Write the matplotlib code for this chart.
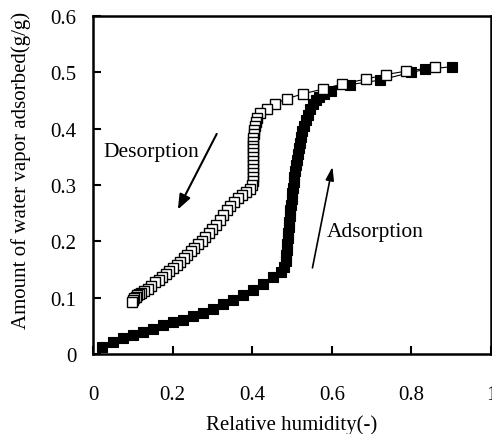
import matplotlib
matplotlib.use("Agg")
import matplotlib.pyplot as plt

# Adsorption (filled squares)
ads_x = [0.022, 0.050, 0.076, 0.100, 0.126, 0.151, 0.176, 0.201, 0.226, 0.251,
         0.277, 0.302, 0.327, 0.352, 0.377, 0.402, 0.427, 0.452, 0.472, 0.481,
         0.484, 0.486, 0.487, 0.488, 0.489, 0.491, 0.492, 0.493, 0.494, 0.495,
         0.497, 0.499, 0.500, 0.502, 0.504, 0.506, 0.508, 0.510, 0.512, 0.514,
         0.517, 0.520, 0.523, 0.526, 0.530, 0.534, 0.539, 0.545, 0.552, 0.560,
         0.568, 0.580, 0.598, 0.645, 0.720, 0.800, 0.835, 0.901]
ads_y = [0.012, 0.021, 0.029, 0.034, 0.039, 0.045, 0.051, 0.056, 0.061, 0.067,
         0.073, 0.080, 0.088, 0.096, 0.104, 0.114, 0.125, 0.136, 0.145, 0.155,
         0.165, 0.175, 0.185, 0.195, 0.205, 0.215, 0.225, 0.235, 0.245, 0.255,
         0.265, 0.275, 0.285, 0.295, 0.305, 0.315, 0.325, 0.335, 0.345, 0.355,
         0.365, 0.375, 0.385, 0.395, 0.405, 0.415, 0.425, 0.435, 0.443, 0.450,
         0.456, 0.461, 0.466, 0.478, 0.486, 0.500, 0.505, 0.510]

# Desorption (open squares), in measured order (high to low humidity)
des_x = [0.859, 0.786, 0.736, 0.686, 0.625, 0.577, 0.528, 0.487, 0.457, 0.436,
         0.420, 0.412, 0.409, 0.407, 0.405, 0.404, 0.403, 0.402, 0.401, 0.401,
         0.401, 0.401, 0.401, 0.401, 0.401, 0.402, 0.402, 0.401, 0.399, 0.394,
         0.385, 0.375, 0.365, 0.355, 0.345, 0.336, 0.327, 0.318, 0.309, 0.300,
         0.291, 0.282, 0.273, 0.264, 0.255, 0.246, 0.237, 0.228, 0.219, 0.210,
         0.201, 0.192, 0.183, 0.174, 0.165, 0.156, 0.147, 0.138, 0.129, 0.120,
         0.115, 0.111, 0.108, 0.104, 0.101, 0.097]
des_y = [0.509, 0.502, 0.496, 0.488, 0.479, 0.470, 0.462, 0.453, 0.444, 0.435,
         0.427, 0.419, 0.412, 0.405, 0.398, 0.391, 0.384, 0.377, 0.370, 0.363,
         0.356, 0.349, 0.342, 0.335, 0.328, 0.321, 0.314, 0.307, 0.300, 0.293,
         0.288, 0.283, 0.277, 0.270, 0.262, 0.255, 0.246, 0.238, 0.229, 0.221,
         0.214, 0.208, 0.201, 0.195, 0.188, 0.182, 0.176, 0.170, 0.164, 0.158,
         0.153, 0.148, 0.142, 0.137, 0.132, 0.127, 0.121, 0.116, 0.112, 0.108,
         0.106, 0.104, 0.102, 0.099, 0.096, 0.093]

x_ticks = [0, 0.2, 0.4, 0.6, 0.8, 1.0]
x_tick_labels = ["0", "0.2", "0.4", "0.6", "0.8", "1"]
y_ticks = [0, 0.1, 0.2, 0.3, 0.4, 0.5, 0.6]
y_tick_labels = ["0", "0.1", "0.2", "0.3", "0.4", "0.5", "0.6"]

plt.rcParams['font.family'] = ['Liberation Serif', 'DejaVu Serif']

fig = plt.figure(figsize=(4.92, 4.35), dpi=100)
ax = fig.add_axes([0.189, 0.184, 0.809, 0.777])

ax.plot(ads_x, ads_y, color='black', lw=0.8, marker='s', markersize=7.5,
        markerfacecolor='black', markeredgecolor='black', markeredgewidth=0.8)
ax.plot(des_x, des_y, color='black', lw=0.8, marker='s', markersize=7.5,
        markerfacecolor='white', markeredgecolor='black', markeredgewidth=1.0)

ax.set_xlim(0, 1)
ax.set_ylim(0, 0.6)
ax.set_xticks(x_ticks)
ax.set_xticklabels(x_tick_labels)
ax.set_yticks(y_ticks)
ax.set_yticklabels(y_tick_labels)
ax.tick_params(axis='both', direction='in', length=6, width=1.5, labelsize=15)
ax.tick_params(axis='x', pad=22)
ax.tick_params(axis='y', pad=12)
for s in ax.spines.values():
    s.set_linewidth(1.8)

ax.set_xlabel("Relative humidity(-)", fontsize=15, labelpad=8)
ax.set_ylabel("Amount of water vapor adsorbed(g/g)", fontsize=15)
ax.yaxis.set_label_coords(-0.156, 0.547)

ax.annotate("", xy=(0.21, 0.252), xytext=(0.314, 0.395),
            arrowprops=dict(arrowstyle='-|>,head_length=0.9,head_width=0.35',
                            color='black', lw=1.5))
ax.text(0.147, 0.36, "Desorption", fontsize=15.5, ha='center', va='center')

ax.annotate("", xy=(0.603, 0.337), xytext=(0.55, 0.148),
            arrowprops=dict(arrowstyle='-|>,head_length=0.8,head_width=0.25',
                            color='black', lw=1.2))
ax.text(0.709, 0.217, "Adsorption", fontsize=15.5, ha='center', va='center')

fig.savefig("out.png", dpi=100)
